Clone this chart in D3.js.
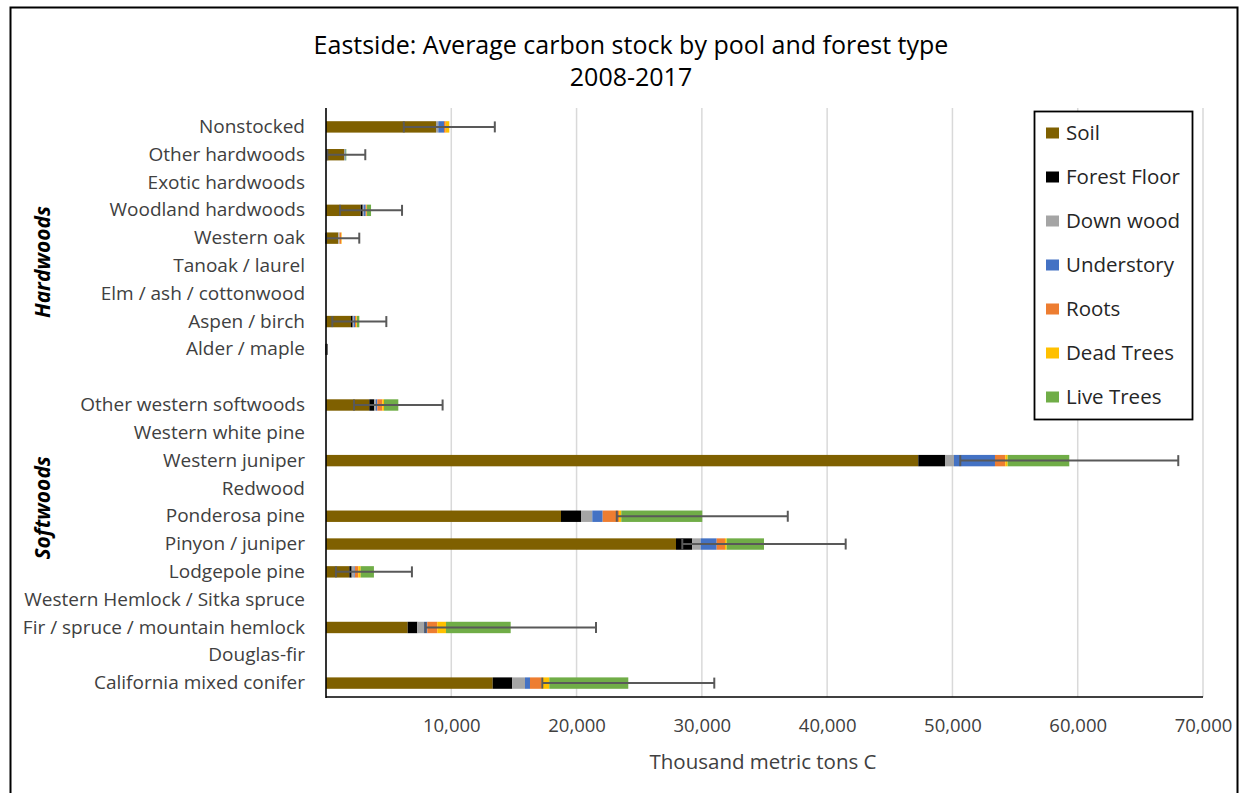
<!DOCTYPE html>
<html>
<head>
<meta charset="utf-8">
<script src="https://cdn.jsdelivr.net/npm/d3@7"></script>
<style>
  html, body { margin: 0; padding: 0; background: #fff; }
  svg { display: block; font-family: "Open Sans", "Noto Sans", sans-serif; }
</style>
</head>
<body>
<svg id="chart" width="1245" height="793"></svg>
<script>
const categories = [
  "Nonstocked", "Other hardwoods", "Exotic hardwoods", "Woodland hardwoods", "Western oak",
  "Tanoak / laurel", "Elm / ash / cottonwood", "Aspen / birch", "Alder / maple", "",
  "Other western softwoods", "Western white pine", "Western juniper", "Redwood", "Ponderosa pine",
  "Pinyon / juniper", "Lodgepole pine", "Western Hemlock / Sitka spruce",
  "Fir / spruce / mountain hemlock", "Douglas-fir", "California mixed conifer"
];
const soil        = [8780, 1440, 0, 2770, 980, 0, 0, 1995, 40, 0, 3456, 0, 47274, 0, 18756, 27935, 1860, 0, 6521, 0, 13305];
const forestFloor = [0, 0, 0, 160, 0, 0, 0, 135, 0, 0, 399, 0, 2132, 0, 1597, 1301, 190, 0, 766, 0, 1564];
const downWood    = [184, 80, 0, 80, 100, 0, 0, 80, 0, 0, 136, 0, 718, 0, 901, 670, 210, 0, 535, 0, 1014];
const understory  = [455, 50, 0, 160, 0, 0, 0, 105, 0, 0, 104, 0, 3272, 0, 831, 1277, 50, 0, 263, 0, 399];
const roots       = [136, 0, 0, 80, 135, 0, 0, 105, 0, 0, 399, 0, 822, 0, 1301, 663, 265, 0, 798, 0, 934];
const deadTrees   = [287, 0, 0, 25, 40, 0, 0, 55, 0, 0, 136, 0, 192, 0, 183, 135, 190, 0, 694, 0, 607];
const liveTrees   = [0, 50, 0, 320, 0, 0, 0, 185, 0, 0, 1141, 0, 4916, 0, 6465, 2978, 1060, 0, 5164, 0, 6305];
const errorValues = [3632, 1516, 0, 2474, 1400, 0, 0, 2155, 30, 0, 3536, 0, 8700, 0, 6824, 6521, 3033, 0, 6808, 0, 6864];
const seriesNames = ["Soil", "Forest Floor", "Down wood", "Understory", "Roots", "Dead Trees", "Live Trees"];
const seriesColors = ["#7F6000", "#000000", "#A5A5A5", "#4472C4", "#ED7D31", "#FFC000", "#70AD47"];
const xTicks = [10000, 20000, 30000, 40000, 50000, 60000, 70000];
const groupLabels = ["Hardwoods", "Softwoods"];

const seriesData = [soil, forestFloor, downWood, understory, roots, deadTrees, liveTrees];
const rows = categories.map((c, i) => {
  const r = { idx: i, name: c };
  seriesNames.forEach((s, k) => r[s] = seriesData[k][i]);
  r.total = seriesData.reduce((a, arr) => a + arr[i], 0);
  r.err = errorValues[i];
  return r;
});

const svg = d3.select("#chart");
const plot = { left: 326, right: 1203, top: 113, bottom: 697 };

// Outer frame
svg.append("path")
  .attr("d", `M10.5,793 L10.5,7.5 L1237.5,7.5 L1237.5,793`)
  .attr("fill", "none").attr("stroke", "#000").attr("stroke-width", 2);

const x = d3.scaleLinear().domain([0, 70000]).range([plot.left, plot.right]);
const y = d3.scaleBand().domain(d3.range(categories.length)).range([plot.top, plot.bottom]).paddingInner(0).paddingOuter(0);
const barH = y.step() * 0.41;

// gridlines
svg.append("g").selectAll("line").data(xTicks).join("line")
  .attr("x1", d => x(d)).attr("x2", d => x(d))
  .attr("y1", plot.top - 5).attr("y2", plot.bottom)
  .attr("stroke", "#D9D9D9").attr("stroke-width", 1.5);

// stacked bars
const stack = d3.stack().keys(seriesNames)(rows);
svg.append("g").selectAll("g").data(stack).join("g")
  .attr("fill", (d, i) => seriesColors[i])
  .selectAll("rect").data(d => d).join("rect")
  .attr("x", d => x(d[0]))
  .attr("width", d => Math.max(0, x(d[1]) - x(d[0])))
  .attr("y", (d, i) => y(i) + (y.step() - barH) / 2)
  .attr("height", barH);

// error bars
const eb = svg.append("g").attr("stroke", "#595959").attr("stroke-width", 2);
rows.filter(r => r.err > 0).forEach(r => {
  const cy = y(r.idx) + y.step() / 2;
  const lo = x(Math.max(0, r.total - r.err));
  const hi = x(r.total + r.err);
  eb.append("line").attr("x1", lo).attr("x2", hi).attr("y1", cy).attr("y2", cy);
  eb.append("line").attr("x1", lo).attr("x2", lo).attr("y1", cy - 5.5).attr("y2", cy + 5.5);
  eb.append("line").attr("x1", hi).attr("x2", hi).attr("y1", cy - 5.5).attr("y2", cy + 5.5);
});

// axes lines
svg.append("line").attr("x1", plot.left).attr("x2", plot.left)
  .attr("y1", plot.top - 5).attr("y2", plot.bottom + 1)
  .attr("stroke", "#000").attr("stroke-width", 1.6);
svg.append("line").attr("x1", plot.left).attr("x2", plot.right)
  .attr("y1", plot.bottom).attr("y2", plot.bottom)
  .attr("stroke", "#000").attr("stroke-width", 1.6);

// x tick labels via axis
const xAxis = d3.axisBottom(x).tickValues(xTicks).tickSize(0).tickPadding(0)
  .tickFormat(d3.format(","));
const gx = svg.append("g").attr("transform", `translate(0, ${plot.bottom + 22})`).call(xAxis);
gx.select(".domain").remove();
gx.selectAll("text").attr("font-size", 18.5).attr("fill", "#404040")
  .attr("font-family", "'Open Sans', sans-serif");

// y labels via axis
const yAxis = d3.axisLeft(y).tickSize(0).tickPadding(0).tickFormat(i => categories[i]);
const gy = svg.append("g").attr("transform", `translate(305, 0)`).call(yAxis);
gy.select(".domain").remove();
gy.selectAll("text").attr("font-size", 19).attr("fill", "#404040")
  .attr("font-family", "'Open Sans', sans-serif");

// group labels (centred at band-step positions)
const groupCenters = [5.36, 14.2];
groupLabels.forEach((g, k) => {
  const cy = plot.top + groupCenters[k] * y.step();
  svg.append("text")
    .attr("transform", `translate(50, ${cy}) rotate(-90)`)
    .attr("text-anchor", "middle")
    .attr("font-size", 21).attr("font-weight", "bold").attr("font-style", "italic")
    .attr("fill", "#000").text(g);
});

// title
svg.append("text").attr("x", 631).attr("y", 45).attr("dy", "0.35em").attr("text-anchor", "middle")
  .attr("font-size", 25).attr("fill", "#000")
  .text("Eastside: Average carbon stock by pool and forest type");
svg.append("text").attr("x", 631).attr("y", 77).attr("dy", "0.35em").attr("text-anchor", "middle")
  .attr("font-size", 25).attr("fill", "#000").text("2008-2017");

// x axis title
svg.append("text").attr("x", 763).attr("y", 762).attr("dy", "0.35em").attr("text-anchor", "middle")
  .attr("font-size", 20.5).attr("fill", "#404040").text("Thousand metric tons C");

// legend
const lg = svg.append("g");
lg.append("rect").attr("x", 1034.5).attr("y", 111.5).attr("width", 158).attr("height", 308)
  .attr("fill", "#fff").attr("stroke", "#000").attr("stroke-width", 1.8);
seriesNames.forEach((s, i) => {
  const cy = 133 + i * 44;
  lg.append("rect").attr("x", 1046).attr("y", cy - 5.5).attr("width", 13).attr("height", 11)
    .attr("fill", seriesColors[i]);
  lg.append("text").attr("x", 1066).attr("y", cy).attr("dy", "0.35em")
    .attr("font-size", 20.5).attr("fill", "#262626").text(s);
});
</script>
</body>
</html>
